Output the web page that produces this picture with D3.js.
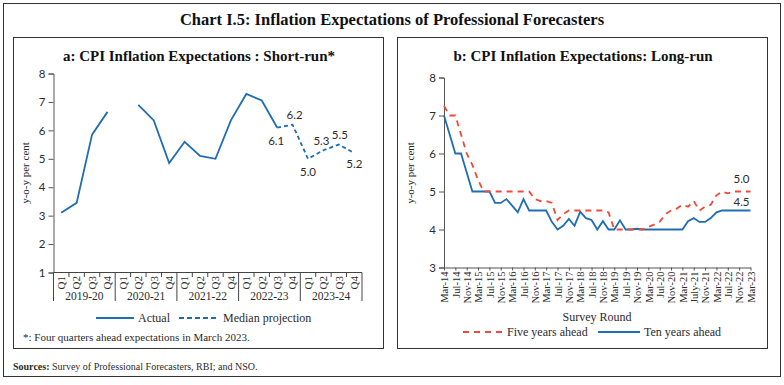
<!DOCTYPE html>
<html>
<head>
<meta charset="utf-8">
<script src="https://cdn.jsdelivr.net/npm/d3@7"></script>
<style>
  body { margin: 0; background: #fff; }
  svg { display: block; }
  .serif { font-family: 'Liberation Serif', 'DejaVu Serif', serif; }
  .num { font-family: Lato, 'Liberation Sans', sans-serif; }
</style>
</head>
<body>
<div id="chart"></div>
<script>
// panel a: short-run expectations, quarterly
const years = ['2019-20', '2020-21', '2021-22', '2022-23', '2023-24']
const quarters = ['Q1', 'Q2', 'Q3', 'Q4']
const actual = [3.1, 3.45, 5.85, 6.65, null, 6.9, 6.35, 4.85, 5.6, 5.1, 5.0, 6.35,
  7.28, 7.05, 6.1, null, null, null, null, null]
const projection = [null, null, null, null, null, null, null, null, null, null, null, null,
  null, null, 6.1, 6.2, 5.0, 5.3, 5.5, 5.2]
const shortTicks = [1, 2, 3, 4, 5, 6, 7, 8]

// panel b: long-run expectations, bi-monthly survey rounds
const rounds = ['Mar-14', 'May-14', 'Jul-14', 'Sep-14', 'Nov-14',
  'Jan-15', 'Mar-15', 'May-15', 'Jul-15', 'Sep-15', 'Nov-15',
  'Jan-16', 'Mar-16', 'May-16', 'Jul-16', 'Sep-16', 'Nov-16',
  'Jan-17', 'Mar-17', 'May-17', 'Jul-17', 'Sep-17', 'Nov-17',
  'Jan-18', 'Mar-18', 'May-18', 'Jul-18', 'Sep-18', 'Nov-18',
  'Jan-19', 'Mar-19', 'May-19', 'Jul-19', 'Sep-19', 'Nov-19',
  'Jan-20', 'Mar-20', 'May-20', 'Jul-20', 'Sep-20', 'Nov-20',
  'Jan-21', 'Mar-21', 'May-21', 'July-21', 'Sep-21', 'Nov-21',
  'Jan-22', 'Mar-22', 'May-22', 'Jul-22', 'Sep-22', 'Nov-22',
  'Jan-23', 'Mar-23']
const roundTicks = ['Mar-14', 'Jul-14', 'Nov-14', 'Mar-15', 'Jul-15', 'Nov-15', 'Mar-16',
  'Jul-16', 'Nov-16', 'Mar-17', 'Jul-17', 'Nov-17', 'Mar-18', 'Jul-18', 'Nov-18',
  'Mar-19', 'Jul-19', 'Nov-19', 'Mar-20', 'Jul-20', 'Nov-20', 'Mar-21', 'July-21',
  'Nov-21', 'Mar-22', 'Jul-22', 'Nov-22', 'Mar-23']
const fiveYear = [7.25, 7.0, 7.0, 6.5, 6.0, 5.7, 5.3, 5.0, 5.0, 5.0, 5.0, 5.0, 5.0, 5.0,
  5.0, 5.0, 4.8, 4.75, 4.75, 4.7, 4.25, 4.4, 4.5, 4.5, 4.5, 4.5, 4.5, 4.5, 4.5, 4.45,
  4.0, 4.0, 4.0, 4.0, 4.0, 4.0, 4.07, 4.13, 4.2, 4.4, 4.5, 4.55, 4.65, 4.6, 4.75, 4.5,
  4.6, 4.65, 4.9, 5.0, 4.95, 5.0, 5.0, 5.0, 5.0]
const tenYear = [7.0, 6.5, 6.0, 6.0, 5.5, 5.0, 5.0, 5.0, 5.0, 4.7, 4.7, 4.8, 4.63, 4.45,
  4.8, 4.5, 4.5, 4.5, 4.5, 4.2, 4.0, 4.1, 4.28, 4.1, 4.47, 4.3, 4.25, 4.0, 4.22, 4.0,
  4.0, 4.24, 4.0, 4.0, 4.02, 4.0, 4.0, 4.0, 4.0, 4.0, 4.0, 4.0, 4.0, 4.22, 4.3, 4.2,
  4.2, 4.3, 4.45, 4.5, 4.5, 4.5, 4.5, 4.5, 4.5]
const longTicks = [3, 4, 5, 6, 7, 8]

const blue = '#1f6db5'
const red = '#f04a3a'
const ink = '#2b2b2b'

const svg = d3.select('#chart').append('svg')
  .attr('width', 784)
  .attr('height', 385)

// frames and titles
svg.append('rect').attr('x', 3.5).attr('y', 3.5).attr('width', 777).attr('height', 373)
  .attr('fill', 'none').attr('stroke', '#333')
svg.append('text').attr('class', 'serif')
  .attr('x', 392).attr('y', 25)
  .attr('text-anchor', 'middle')
  .style('font-size', '16.5px').style('font-weight', 'bold').attr('fill', '#111')
  .text('Chart I.5: Inflation Expectations of Professional Forecasters')

const panels = [{x: 13.5, title: 'a: CPI Inflation Expectations : Short-run*', cx: 199},
  {x: 397.5, title: 'b: CPI Inflation Expectations: Long-run', cx: 583}]
panels.forEach((p) => {
  svg.append('rect').attr('x', p.x).attr('y', 37.5).attr('width', 370).attr('height', 311)
    .attr('fill', 'none').attr('stroke', '#333')
  svg.append('text').attr('class', 'serif')
    .attr('x', p.cx).attr('y', 61)
    .attr('text-anchor', 'middle')
    .style('font-size', '15px').style('font-weight', 'bold').attr('fill', '#111')
    .text(p.title)
})

// ---------- panel a ----------
const idx = d3.range(actual.length)
const xa = d3.scaleBand().domain(idx).range([53.5, 362]).padding(0)
const ya = d3.scaleLinear().domain([1, 8]).range([272.5, 73.5])
const cxa = (i) => xa(i) + xa.bandwidth() / 2

const gA = svg.append('g')
gA.append('g')
  .attr('transform', 'translate(53.5,0)')
  .call(d3.axisLeft(ya).tickValues(shortTicks).tickSize(5).tickFormat(d3.format('d')))
  .call((g) => {
    g.select('.domain').attr('stroke', '#555')
    g.selectAll('line').attr('stroke', '#555')
    g.selectAll('text').attr('class', 'num').style('font-size', '11.5px').attr('fill', ink)
  })

// category axis
gA.append('line').attr('x1', 53.5).attr('x2', 362).attr('y1', 272.5).attr('y2', 272.5)
  .attr('stroke', '#444')
d3.range(actual.length + 1).forEach((i) => {
  const x = i < actual.length ? xa(i) : 362
  const isYear = i % 4 === 0
  gA.append('line').attr('x1', x).attr('x2', x)
    .attr('y1', 272.5).attr('y2', isYear ? 301 : 277)
    .attr('stroke', '#444')
})
gA.selectAll('.qlab')
  .data(idx)
  .enter().append('text')
  .attr('class', 'qlab serif')
  .attr('transform', (i) => `translate(${cxa(i)},276) rotate(-90)`)
  .attr('dy', '0.35em')
  .attr('text-anchor', 'end')
  .style('font-size', '11px').attr('fill', ink)
  .text((i) => quarters[i % 4])
gA.selectAll('.ylab')
  .data(years)
  .enter().append('text')
  .attr('class', 'serif')
  .attr('x', (d, k) => (xa(k * 4) + (k < years.length - 1 ? xa(k * 4 + 4) : 362)) / 2)
  .attr('y', 300)
  .attr('text-anchor', 'middle')
  .style('font-size', '11.5px').attr('fill', ink)
  .text((d) => d)

gA.append('text').attr('class', 'serif')
  .attr('transform', 'translate(25,173) rotate(-90)')
  .attr('text-anchor', 'middle').attr('dy', '0.35em')
  .style('font-size', '11px').attr('fill', ink)
  .text('y-o-y per cent')

const lineA = d3.line()
  .defined((d) => d != null)
  .x((d, i) => cxa(i))
  .y((d) => ya(d))
gA.append('path').datum(actual)
  .attr('d', lineA).attr('fill', 'none')
  .attr('stroke', blue).attr('stroke-width', 1.8)
gA.append('path').datum(projection)
  .attr('d', lineA).attr('fill', 'none')
  .attr('stroke', blue).attr('stroke-width', 1.8).attr('stroke-dasharray', '4,3')

// value labels on the projection
const labelOffset = {14: [-1, 13], 15: [2, -10], 16: [0, 13], 17: [-2, -9], 18: [1, -10], 19: [0, 11]}
gA.selectAll('.plab')
  .data(idx.filter((i) => projection[i] != null))
  .enter().append('text')
  .attr('class', 'num')
  .attr('x', (i) => cxa(i) + labelOffset[i][0])
  .attr('y', (i) => ya(projection[i]) + labelOffset[i][1])
  .attr('dy', '0.35em')
  .attr('text-anchor', 'middle')
  .style('font-size', '11.5px').attr('fill', ink)
  .text((i) => d3.format('.1f')(projection[i]))

// legend a
gA.append('line').attr('x1', 96).attr('x2', 134).attr('y1', 318).attr('y2', 318)
  .attr('stroke', blue).attr('stroke-width', 2)
gA.append('text').attr('class', 'serif').attr('x', 138).attr('y', 318).attr('dy', '0.35em')
  .style('font-size', '12px').attr('fill', ink).text('Actual')
gA.append('line').attr('x1', 179).attr('x2', 219).attr('y1', 318).attr('y2', 318)
  .attr('stroke', blue).attr('stroke-width', 2).attr('stroke-dasharray', '5,3')
gA.append('text').attr('class', 'serif').attr('x', 223).attr('y', 318).attr('dy', '0.35em')
  .style('font-size', '12px').attr('fill', ink).text('Median projection')
gA.append('text').attr('class', 'serif').attr('x', 23).attr('y', 341)
  .style('font-size', '11px').attr('fill', ink)
  .text('*: Four quarters ahead expectations in March 2023.')

// ---------- panel b ----------
const xb = d3.scalePoint().domain(rounds).range([444, 750.5])
const yb = d3.scaleLinear().domain([3, 8]).range([267.5, 77.5])
const gB = svg.append('g')

gB.append('g')
  .attr('transform', 'translate(444,0)')
  .call(d3.axisLeft(yb).tickValues(longTicks).tickSize(5).tickFormat(d3.format('d')))
  .call((g) => {
    g.select('.domain').attr('stroke', '#555')
    g.selectAll('line').attr('stroke', '#555')
    g.selectAll('text').attr('class', 'num').style('font-size', '11.5px').attr('fill', ink)
  })
gB.append('g')
  .attr('transform', 'translate(0,267.5)')
  .call(d3.axisBottom(xb).tickValues(roundTicks).tickSize(3).tickSizeOuter(0))
  .call((g) => {
    g.select('.domain').attr('stroke', '#555')
    g.selectAll('line').attr('stroke', '#555')
    g.selectAll('text')
      .attr('class', 'serif')
      .attr('transform', 'rotate(-90)')
      .attr('x', -4).attr('y', 0).attr('dy', '0.35em')
      .attr('text-anchor', 'end')
      .style('font-size', '10.5px').attr('fill', ink)
  })

gB.append('text').attr('class', 'serif')
  .attr('transform', 'translate(410,173) rotate(-90)')
  .attr('text-anchor', 'middle').attr('dy', '0.35em')
  .style('font-size', '11px').attr('fill', ink)
  .text('y-o-y per cent')
gB.append('text').attr('class', 'serif')
  .attr('x', 597).attr('y', 317).attr('dy', '0.35em')
  .attr('text-anchor', 'middle')
  .style('font-size', '12px').attr('fill', ink)
  .text('Survey Round')

const lineB = d3.line()
  .x((d, i) => xb(rounds[i]))
  .y((d) => yb(d))
gB.append('path').datum(tenYear)
  .attr('d', lineB).attr('fill', 'none')
  .attr('stroke', blue).attr('stroke-width', 1.8)
gB.append('path').datum(fiveYear)
  .attr('d', lineB).attr('fill', 'none')
  .attr('stroke', red).attr('stroke-width', 1.8).attr('stroke-dasharray', '6,5')

const last = rounds.length - 1
gB.append('text').attr('class', 'num')
  .attr('x', xb(rounds[last]) - 9).attr('y', yb(fiveYear[last]) - 9)
  .attr('text-anchor', 'middle')
  .style('font-size', '11.5px').attr('fill', ink)
  .text(d3.format('.1f')(fiveYear[last]))
gB.append('text').attr('class', 'num')
  .attr('x', xb(rounds[last]) - 9).attr('y', yb(tenYear[last]) - 5)
  .attr('text-anchor', 'middle')
  .style('font-size', '11.5px').attr('fill', ink)
  .text(d3.format('.1f')(tenYear[last]))

// legend b
gB.append('line').attr('x1', 463).attr('x2', 502).attr('y1', 332).attr('y2', 332)
  .attr('stroke', red).attr('stroke-width', 2).attr('stroke-dasharray', '6,5')
gB.append('text').attr('class', 'serif').attr('x', 507).attr('y', 332).attr('dy', '0.35em')
  .style('font-size', '12px').attr('fill', ink).text('Five years ahead')
gB.append('line').attr('x1', 598).attr('x2', 640).attr('y1', 332).attr('y2', 332)
  .attr('stroke', blue).attr('stroke-width', 2)
gB.append('text').attr('class', 'serif').attr('x', 644).attr('y', 332).attr('dy', '0.35em')
  .style('font-size', '12px').attr('fill', ink).text('Ten years ahead')

// sources
const src = svg.append('text').attr('class', 'serif')
  .attr('x', 13).attr('y', 370)
  .style('font-size', '10px').attr('fill', ink)
src.append('tspan').style('font-weight', 'bold').text('Sources: ')
src.append('tspan').text('Survey of Professional Forecasters, RBI; and NSO.')
</script>
</body>
</html>
